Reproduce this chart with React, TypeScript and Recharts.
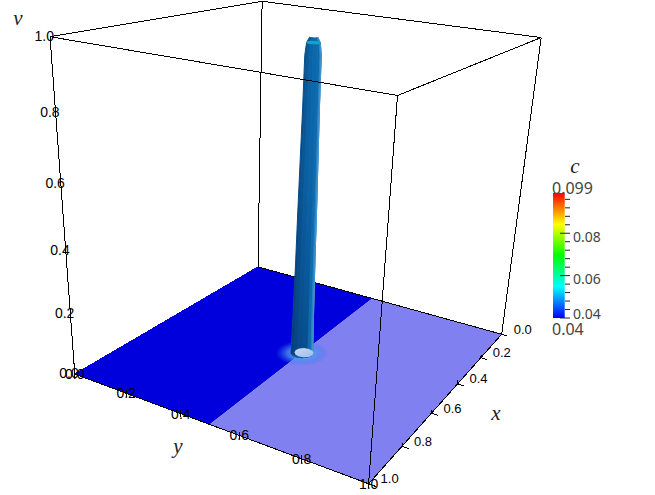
import React from 'react';
import { Bar, ComposedChart, Scatter, XAxis, YAxis } from 'recharts';

type P3 = [number, number, number];

const axisTicks = [0, 0.2, 0.4, 0.6, 0.8, 1];
const axisTickLabels = ['0.0', '0.2', '0.4', '0.6', '0.8', '1.0'];

// the spike at (x, y) = (0.5, 0.5): height against tube radius
const spikeHeights = [0, 0.1, 0.3, 0.5, 0.8, 0.95, 0.985, 1];
const spikeRadii = [0.036, 0.034, 0.031, 0.029, 0.025, 0.024, 0.02, 0.012];
const facetAngles = [-45, -20, 5, 30, 60, 85, 105, 135];
const facetColors = ['#0a4f88', '#0a5a98', '#0b64a6', '#0c6aae', '#0d6cb0', '#2c84c0', '#4393cc'];
const ringAngles = [0, 30, 60, 90, 120, 150, 180, 210, 240, 270, 300, 330, 360];

// colour bar
const colorTicks = [0.04, 0.044, 0.048, 0.052, 0.056, 0.06, 0.064, 0.068, 0.072, 0.076, 0.08, 0.084, 0.088, 0.092, 0.096];
const colorMajor = [0.04, 0.06, 0.08];
const colorRange = [0.04, 0.099];
const colorBar = [{ name: 'c', range: colorRange }];

// where the eight box corners land on the page, used to fit the camera
const cornerPoints: P3[] = [[1, 0, 0], [1, 1, 0], [0, 1, 0], [0, 0, 0], [1, 0, 1], [1, 1, 1], [0, 1, 1], [0, 0, 1]];
const cornerPixels = [[75, 374], [368, 484], [502, 334], [258, 267], [50, 37], [398, 95], [541, 38], [262, 1]];

function solve(A: number[][], b: number[]) {
  const n = b.length;
  const M = A.map((r, i) => [...r, b[i]]);
  for (let i = 0; i < n; i++) {
    let p = i;
    for (let k = i + 1; k < n; k++) if (Math.abs(M[k][i]) > Math.abs(M[p][i])) p = k;
    [M[i], M[p]] = [M[p], M[i]];
    for (let k = 0; k < n; k++) {
      if (k === i) continue;
      const f = M[k][i] / M[i][i];
      for (let j = i; j <= n; j++) M[k][j] -= f * M[i][j];
    }
  }
  return M.map((r, i) => r[n] / r[i]);
}

function fitCamera() {
  const rows: number[][] = [];
  const rhs: number[] = [];
  cornerPoints.forEach(([x, y, v], i) => {
    const u = cornerPixels[i][0] / 500;
    const w = cornerPixels[i][1] / 500;
    rows.push([x, y, v, 1, 0, 0, 0, 0, -u * x, -u * y, -u * v]);
    rhs.push(u);
    rows.push([0, 0, 0, 0, x, y, v, 1, -w * x, -w * y, -w * v]);
    rhs.push(w);
  });
  const AtA = rows[0].map((_, a) => rows[0].map((_, b) => rows.reduce((s, r) => s + r[a] * r[b], 0)));
  const Atb = rows[0].map((_, a) => rows.reduce((s, r, i) => s + r[a] * rhs[i], 0));
  return solve(AtA, Atb);
}

const cam = fitCamera();

const project = ([x, y, v]: P3, label?: string) => {
  const d = cam[8] * x + cam[9] * y + cam[10] * v + 1;
  return {
    px: (500 * (cam[0] * x + cam[1] * y + cam[2] * v + cam[3])) / d,
    py: (500 * (cam[4] * x + cam[5] * y + cam[6] * v + cam[7])) / d,
    label,
  };
};

const onSpike = (deg: number, r: number, v: number, cx = 0.5, cy = 0.5): P3 => [
  cx + r * Math.cos((deg * Math.PI) / 180),
  cy + r * Math.sin((deg * Math.PI) / 180),
  v,
];

const noDot = () => null;

const edge = (key: string, pts: P3[], stroke = '#000') => (
  <Scatter
    key={key}
    data={pts.map((p) => project(p))}
    shape={noDot}
    line={{ stroke, strokeWidth: 1, fill: 'none', shapeRendering: 'crispEdges' } as any}
    legendType="none"
    isAnimationActive={false}
  />
);

const face = (key: string, pts: P3[], fill: string, stroke = 'none') => (
  <Scatter
    key={key}
    data={pts.map((p) => project(p))}
    shape={noDot}
    line={{ stroke, strokeWidth: 1, fill } as any}
    legendType="none"
    isAnimationActive={false}
  />
);

const labels = (key: string, rows: { at: P3; text: string }[], anchor: 'start' | 'middle' | 'end', dx: number, dy: number, size: number) => (
  <Scatter
    key={key}
    data={rows.map((r) => project(r.at, r.text))}
    shape={(p: any) => (
      <text x={p.cx + dx} y={p.cy + dy} textAnchor={anchor} dominantBaseline="central" fontFamily="Liberation Sans" fontSize={size} fill="#000">
        {p.payload.label}
      </text>
    )}
    legendType="none"
    isAnimationActive={false}
  />
);

const ColorTick = ({ x, y, payload }: any) => {
  const major = colorMajor.includes(payload.value);
  // the lowest label sits above its tick so it clears the range label
  const lift = payload.value === 0.04 ? -5 : 3;
  return (
    <g>
      <line x1={major ? x - 5 : x} x2={x + 5} y1={y} y2={y} stroke="#222" strokeWidth={1} />
      {major && (
        <text x={x + 8} y={y + lift} dominantBaseline="central" fontFamily="Noto Sans" fontSize={14} fill="#444">
          {payload.value.toFixed(2)}
        </text>
      )}
    </g>
  );
};

const title = (text: string, x: number, y: number) => (
  <text x={x} y={y} textAnchor="middle" fontFamily="Liberation Serif" fontStyle="italic" fontSize={21} fill="#222">
    {text}
  </text>
);

const App: React.FC = () => {
  return (
    <div style={{ position: 'absolute', left: 0, top: 0, width: 655, height: 495, background: '#fff' }}>
      <div style={{ position: 'absolute', left: 0, top: 0 }}>
        <ComposedChart width={655} height={495} margin={{ top: 0, right: 0, bottom: 0, left: 0 }}>
          <defs>
            <radialGradient id="glow">
              <stop offset="0%" stopColor="#6aa8f4" stopOpacity={1} />
              <stop offset="55%" stopColor="#4f93f0" stopOpacity={0.75} />
              <stop offset="100%" stopColor="#3070f0" stopOpacity={0} />
            </radialGradient>
            <linearGradient id="foot" x1="0" y1="0" x2="1" y2="1">
              <stop offset="0%" stopColor="#c8d8f0" />
              <stop offset="100%" stopColor="#a0bcee" />
            </linearGradient>
            <linearGradient id="shade" x1="0" y1="1" x2="0" y2="0">
              <stop offset="0%" stopColor="#04205a" stopOpacity={0.4} />
              <stop offset="55%" stopColor="#04205a" stopOpacity={0.08} />
              <stop offset="100%" stopColor="#04205a" stopOpacity={0} />
            </linearGradient>
          </defs>
          <XAxis type="number" dataKey="px" domain={[0, 655]} hide />
          <YAxis type="number" dataKey="py" domain={[0, 495]} reversed hide />

          {face('low', [[1, 0, 0], [1, 0.5, 0], [0, 0.5, 0], [0, 0, 0]], '#0000dc')}
          {face('high', [[1, 0.5, 0], [1, 1, 0], [0, 1, 0], [0, 0.5, 0]], '#8080f0')}

          {edge('b1', [[0, 0, 0], [0, 1, 0]])}
          {edge('b2', [[0, 0, 0], [1, 0, 0]], '#0000dc')}
          {edge('v-back', [[0, 0, 0], [0, 0, 1]])}
          {edge('t1', [[1, 0, 1], [0, 0, 1]])}
          {edge('t2', [[0, 0, 1], [0, 1, 1]])}

          {face('glow', ringAngles.map((a) => onSpike(a, 0.085, 0)), 'url(#glow)')}

          {facetColors.map((color, f) =>
            face(
              `facet-${f}`,
              [
                ...spikeHeights.map((v, i) => onSpike(facetAngles[f], spikeRadii[i], v)),
                ...[...spikeHeights].reverse().map((v, i) => onSpike(facetAngles[f + 1], spikeRadii[spikeRadii.length - 1 - i], v)),
              ],
              color,
              color,
            ),
          )}
          {face(
            'shade',
            [
              ...spikeHeights.map((v, i) => onSpike(-45, spikeRadii[i], v)),
              ...[...spikeHeights].reverse().map((v, i) => onSpike(60, spikeRadii[spikeRadii.length - 1 - i], v)),
            ],
            'url(#shade)',
          )}
          {face('cap', ringAngles.map((a) => onSpike(a, spikeRadii[6], spikeHeights[6])), '#12a4cc', '#12a4cc')}
          {face('foot', ringAngles.map((a) => onSpike(a, 0.031, 0, 0.495, 0.505)), 'url(#foot)')}

          {edge('b3', [[1, 0, 0], [1, 1, 0]])}
          {edge('b4', [[1, 1, 0], [0, 1, 0]], '#000')}
          {edge('v-left', [[1, 0, 0], [1, 0, 1]])}
          {edge('v-front', [[1, 1, 0], [1, 1, 1]])}
          {edge('v-right', [[0, 1, 0], [0, 1, 1]])}
          {edge('t3', [[1, 0, 1], [1, 1, 1]])}
          {edge('t4', [[1, 1, 1], [0, 1, 1]])}

          {axisTicks.map((t) => edge(`yt-${t}`, [[1, t, -0.012], [1, t, 0.012]]))}
          {axisTicks.map((t) => edge(`xt-${t}`, [[t, 1, 0], [t, 1.02, 0]]))}
          {axisTicks.map((t) => edge(`xs-${t}`, [[t, 1, -0.004], [t, 1, 0.012]]))}

          {labels('v-labels', axisTicks.map((t, i) => ({ at: [1, 0, t] as P3, text: axisTickLabels[i] })), 'end', 4, -1, 14)}
          {labels('y-labels', axisTicks.map((t, i) => ({ at: [1, t, 0] as P3, text: axisTickLabels[i] })), 'middle', 0, 0, 14)}
          {labels('x-labels', axisTicks.map((t, i) => ({ at: [t, 1, 0] as P3, text: axisTickLabels[i] })), 'start', 12, -5, 13)}

          {title('v', 18, 25)}
          {title('y', 178, 453)}
          {title('x', 496, 420)}
          {title('c', 575, 173)}
          <text x={552} y={194} fontFamily="Noto Sans" fontSize={16} fill="#444">0.099</text>
          <text x={552} y={335} fontFamily="Noto Sans" fontSize={16} fill="#444">0.04</text>
        </ComposedChart>
      </div>

      <div style={{ position: 'absolute', left: 530, top: 0 }}>
        <ComposedChart width={125} height={495} data={colorBar} margin={{ top: 193, right: 40, bottom: 177, left: 22 }}>
          <defs>
            <linearGradient id="rainbow" x1="0" y1="1" x2="0" y2="0">
              <stop offset="0%" stopColor="#0000ff" />
              <stop offset="25%" stopColor="#00ffff" />
              <stop offset="50%" stopColor="#00ff00" />
              <stop offset="75%" stopColor="#ffff00" />
              <stop offset="100%" stopColor="#ff0000" />
            </linearGradient>
          </defs>
          <XAxis dataKey="name" hide />
          <YAxis
            orientation="right"
            width={50}
            type="number"
            domain={colorRange}
            ticks={colorTicks}
            interval={0}
            axisLine={false}
            tickLine={false}
            tickSize={0}
            tickMargin={0}
            tick={<ColorTick />}
          />
          <Bar dataKey="range" barSize={13} fill="url(#rainbow)" isAnimationActive={false} />
        </ComposedChart>
      </div>
    </div>
  );
};

export default App;
